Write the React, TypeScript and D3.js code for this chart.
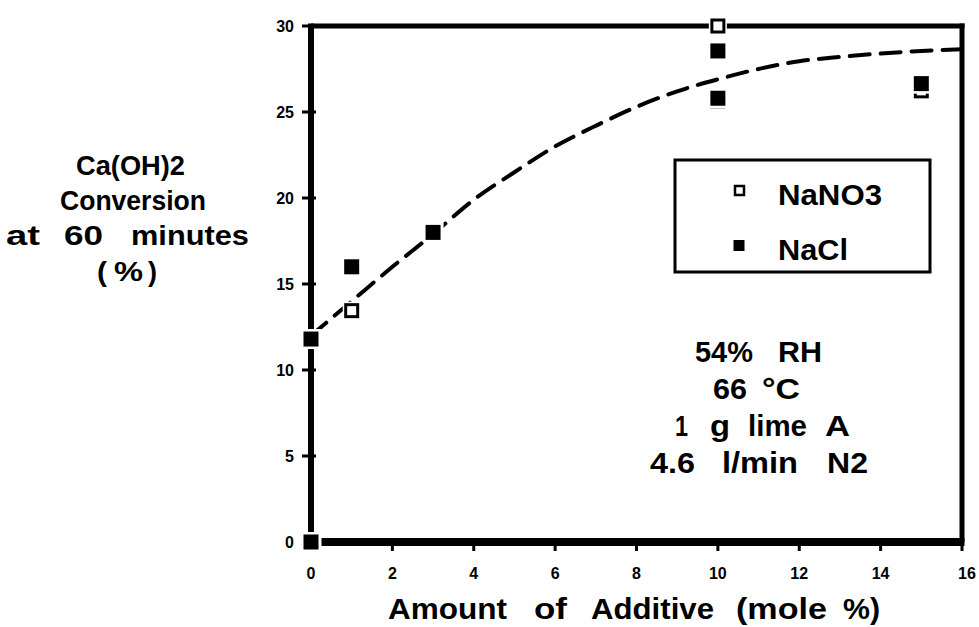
import React from "react";
import * as d3 from "d3";

// Measured conversions (%) vs additive amount (mole %)
const nano3X = [1, 10, 10, 15];
const nano3Y = [13.45, 30, 25.65, 26.23];
const naclX = [0, 0, 1, 3, 10, 10, 15];
const naclY = [0, 11.8, 16.0, 18.0, 28.55, 25.8, 26.65];

// Fitted trend curve
const fitX = [0, 1, 2, 3, 4, 5, 6, 7, 8, 9, 10, 11, 12, 13, 14, 15, 16];
const fitY = [12.0, 14.0, 16.0, 17.9, 19.9, 21.5, 23.0, 24.2, 25.3, 26.2, 26.9, 27.5, 27.95, 28.2, 28.4, 28.55, 28.65];

const xTicks = [0, 2, 4, 6, 8, 10, 12, 14, 16];
const yTicks = [0, 5, 10, 15, 20, 25, 30];

const legendLabels = ["NaNO3", "NaCl"];

type Word = [string, number, number];

// word runs: [text, left, right]
const yTitle: { base: number; words: Word[] }[] = [
  { base: 175, words: [["Ca(OH)2", 76, 185]] },
  { base: 210, words: [["Conversion", 60, 206]] },
  { base: 245, words: [["at", 6, 40], ["60", 64, 103], ["minutes", 131, 249]] },
  { base: 281, words: [["(", 97, 107], ["%", 114, 143], [")", 148, 157]] },
];
const notes: { base: number; words: Word[] }[] = [
  { base: 362, words: [["54%", 695, 753], ["RH", 778, 822]] },
  { base: 399, words: [["66", 713, 747], ["°C", 762, 800]] },
  { base: 436, words: [["1", 675, 688], ["g", 710, 730], ["lime", 748, 807], ["A", 825, 850]] },
  { base: 473, words: [["4.6", 650, 695], ["l/min", 722, 798], ["N2", 827, 868]] },
];
const xTitle: Word[] = [
  ["Amount", 388, 507],
  ["of", 534, 567],
  ["Additive", 591, 714],
  ["(mole", 736, 827],
  ["%)", 843, 880],
];

const W = 979;
const H = 627;
const FONT = "'Liberation Sans', Arial, Helvetica, sans-serif";

function Words({ words, base, size }: { words: Word[]; base: number; size: number }) {
  return (
    <g>
      {words.map(([s, a, b], i) => (
        <text key={i} x={a} y={base} fontSize={size} textLength={b - a} lengthAdjust="spacingAndGlyphs">
          {s}
        </text>
      ))}
    </g>
  );
}

export default function App() {
  const x = d3.scaleLinear().domain([0, 16]).range([311, 962]);
  const y = d3.scaleLinear().domain([0, 30]).range([542, 26]);

  const pts = fitX.map((v, i) => [v, fitY[i]] as [number, number]);
  const line = d3
    .line<[number, number]>()
    .x((d) => x(d[0]))
    .y((d) => y(d[1]))
    .curve(d3.curveMonotoneX);

  const S = 15; // marker size
  const halo = 1.5;

  return (
    <svg
      width={W}
      height={H}
      style={{ position: "absolute", left: 0, top: 0, background: "#fff" }}
      fontFamily={FONT}
      fontWeight="bold"
    >
      <rect x={0} y={0} width={W} height={H} fill="#fff" />

      {/* frame */}
      <line x1={x(0)} x2={x(0)} y1={y(30) - 2.5} y2={y(0) + 4} stroke="#000" strokeWidth={6} />
      <line x1={x(0)} x2={x(16) + 2.5} y1={y(30)} y2={y(30)} stroke="#000" strokeWidth={5} />
      <line x1={x(16)} x2={x(16)} y1={y(30) - 2.5} y2={y(0)} stroke="#000" strokeWidth={5} />
      <line x1={x(0)} x2={x(16) + 2.5} y1={y(0)} y2={y(0)} stroke="#000" strokeWidth={8} />

      {/* ticks */}
      {yTicks.map((t) => (
        <line key={"yt" + t} x1={x(0) - 9} x2={x(0) + 5} y1={y(t)} y2={y(t)} stroke="#000" strokeWidth={3} />
      ))}
      {xTicks.map((t) => (
        <line key={"xt" + t} x1={x(t)} x2={x(t)} y1={y(0)} y2={y(0) + 9} stroke="#000" strokeWidth={3} />
      ))}

      {/* tick labels */}
      {yTicks.map((t) => (
        <text key={"yl" + t} x={294} y={y(t) + 6} textAnchor="end" fontSize={16}>
          {t}
        </text>
      ))}
      {xTicks.map((t) => (
        <text key={"xl" + t} x={x(t) + (t === 16 ? 5 : 0)} y={579} textAnchor="middle" fontSize={16}>
          {t}
        </text>
      ))}

      {/* fitted curve */}
      <path
        d={line(pts) || ""}
        fill="none"
        stroke="#000"
        strokeWidth={4}
        strokeDasharray="20 11"
        strokeLinecap="round"
      />

      {/* NaNO3 open squares */}
      {nano3X.map((v, i) => (
        <g key={"n" + i}>
          <rect x={x(v) - S / 2 - halo} y={y(nano3Y[i]) - S / 2 - halo} width={S + 2 * halo} height={S + 2 * halo} fill="#fff" />
          <rect x={x(v) - S / 2 + 1.5} y={y(nano3Y[i]) - S / 2 + 1.5} width={S - 3} height={S - 3} fill="#fff" stroke="#000" strokeWidth={3} />
        </g>
      ))}

      {/* NaCl filled squares */}
      {naclX.map((v, i) => (
        <g key={"c" + i}>
          <rect x={x(v) - S / 2 - 3} y={y(naclY[i]) - S / 2 - halo - 1} width={S + 6} height={S + 2 * halo + 2} fill="#fff" />
          <rect x={x(v) - S / 2} y={y(naclY[i]) - S / 2} width={S} height={S} fill="#000" />
        </g>
      ))}

      {/* legend */}
      <rect x={675} y={160} width={255} height={112} fill="#fff" stroke="#000" strokeWidth={3} />
      <rect x={735} y={186} width={9} height={9} fill="#fff" stroke="#000" strokeWidth={2.5} />
      <rect x={733.5} y={240} width={11} height={11} fill="#000" />
      <text x={778} y={205} fontSize={29} textLength={104} lengthAdjust="spacingAndGlyphs">
        {legendLabels[0]}
      </text>
      <text x={778} y={260} fontSize={29} textLength={70} lengthAdjust="spacingAndGlyphs">
        {legendLabels[1]}
      </text>

      {/* conditions note */}
      {notes.map((ln, i) => (
        <Words key={"note" + i} words={ln.words} base={ln.base} size={29} />
      ))}

      {/* y axis title */}
      {yTitle.map((ln, i) => (
        <Words key={"yti" + i} words={ln.words} base={ln.base} size={27} />
      ))}

      {/* x axis title */}
      <Words words={xTitle} base={619} size={29} />
    </svg>
  );
}
